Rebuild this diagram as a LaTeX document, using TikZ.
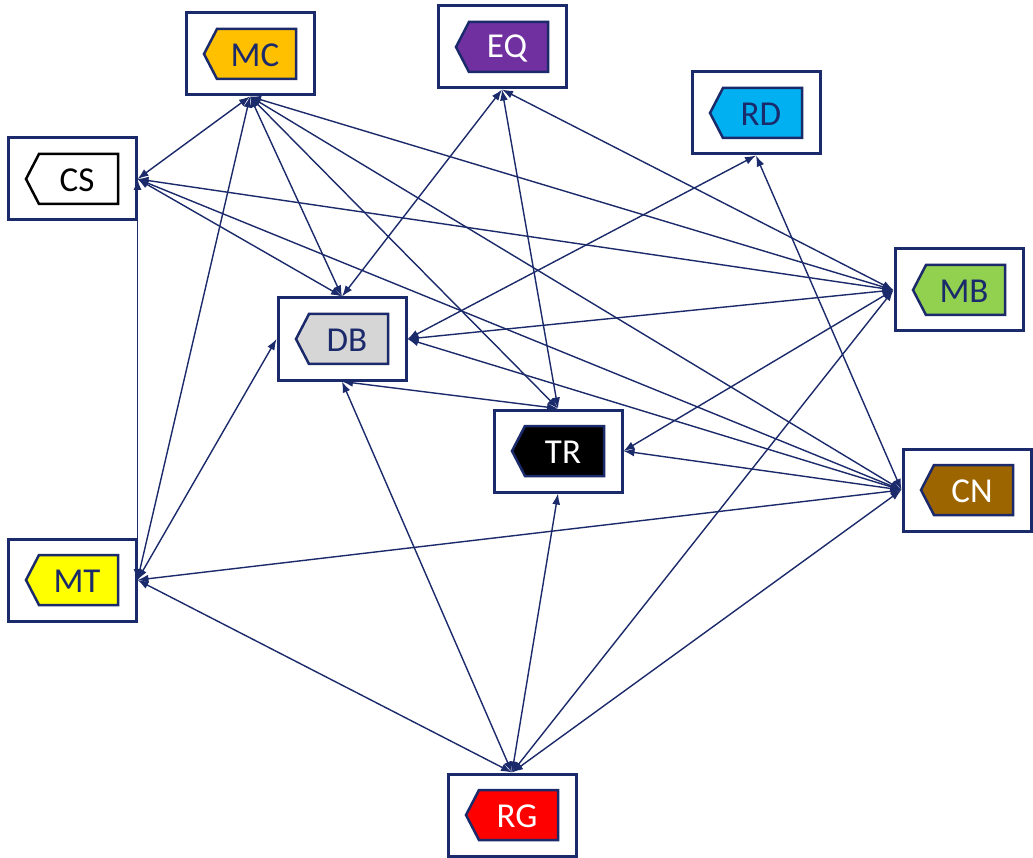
\documentclass[tikz,border=0pt]{standalone}
\usepackage{fontspec}
\setmainfont{Carlito}
\usetikzlibrary{arrows.meta}
\definecolor{navy}{HTML}{1B2A6B}
\definecolor{cMC}{HTML}{FFC000}
\definecolor{cEQ}{HTML}{7030A0}
\definecolor{cDB}{HTML}{D6D6D6}
\definecolor{cMB}{HTML}{92D050}
\definecolor{cCN}{HTML}{9C6500}
\definecolor{cMT}{HTML}{FFFF00}
\definecolor{cRG}{HTML}{FF0000}
\definecolor{cRD}{HTML}{00B0F0}
\tikzset{
  outerbox/.style={draw=navy, line width=3pt, fill=white, minimum width=128pt, minimum height=82pt, inner sep=0pt},
  tagline/.style={draw=navy, line width=2.5pt, line join=miter},
  lbl/.style={font=\fontsize{35}{40}\selectfont, inner sep=0pt},
  link/.style={draw=navy, line width=1.4pt, {Latex[length=11pt,width=8pt]}-{Latex[length=11pt,width=8pt]}},
}
\newcommand{\mytagbox}[6]{%
  \node[outerbox] (#1) at (#2,#3) {};
  \draw[tagline, draw=#6, fill=#4] ([shift={(-46pt,0pt)}]#1.center) -- ([shift={(-33pt,25pt)}]#1.center) -- ([shift={(46pt,25pt)}]#1.center) -- ([shift={(46pt,-25pt)}]#1.center) -- ([shift={(-33pt,-25pt)}]#1.center) -- cycle;
  \node[lbl, text=#5] (#1t) at ([xshift=5pt,yshift=-1pt]#1.center) {#1};
}
\begin{document}
\begin{tikzpicture}[x=1pt,y=-1pt]
\fill[white] (0,0) rectangle (1033,858);
\useasboundingbox (0,0) rectangle (1033,858);
\mytagbox{MC}{250}{54}{cMC}{navy}{navy}
\mytagbox{EQ}{502}{47}{cEQ}{white}{navy}
\mytagbox{RD}{756}{113}{cRD}{navy}{navy}
\mytagbox{CS}{72}{179}{white}{black}{black}
\mytagbox{MB}{959}{290}{cMB}{navy}{navy}
\mytagbox{DB}{342}{339}{cDB}{navy}{navy}
\mytagbox{TR}{558}{451}{black}{white}{navy}
\mytagbox{CN}{967}{490}{cCN}{white}{navy}
\mytagbox{MT}{72}{580}{cMT}{navy}{navy}
\mytagbox{RG}{512}{815}{cRG}{white}{navy}
% connectors
\draw[link] (MC.south) -- (CS.east);
\draw[link] (MC.south) -- (MT.east);
\draw[link] (MC.south) -- (DB.north);
\draw[link] (MC.south) -- (TR.north);
\draw[link] (MC.south) -- (MB.west);
\draw[link] (MC.south) -- (CN.west);
\draw[link] (CS.east) -- (DB.north);
\draw[link] (CS.east) -- (MB.west);
\draw[link] (CS.east) -- (CN.west);
\draw[link] (CS.east) -- (MT.east);
\draw[link] (EQ.south) -- (DB.north);
\draw[link] (EQ.south) -- (TR.north);
\draw[link] (EQ.south) -- (MB.west);
\draw[link] (RD.south) -- (DB.east);
\draw[link] (RD.south) -- (CN.west);
\draw[link] (MB.west) -- (DB.east);
\draw[link] (MB.west) -- (TR.east);
\draw[link] (CN.west) -- (TR.east);
\draw[link] (CN.west) -- (DB.east);
\draw[link] (CN.west) -- (MT.east);
\draw[link] (MT.east) -- (DB.west);
\draw[link] (TR.north) -- (DB.south);
\draw[link] (RG.north) -- (MT.east);
\draw[link] (RG.north) -- (DB.south);
\draw[link] (RG.north) -- (TR.south);
\draw[link] (RG.north) -- (MB.west);
\draw[link] (RG.north) -- (CN.west);
\end{tikzpicture}
\end{document}
